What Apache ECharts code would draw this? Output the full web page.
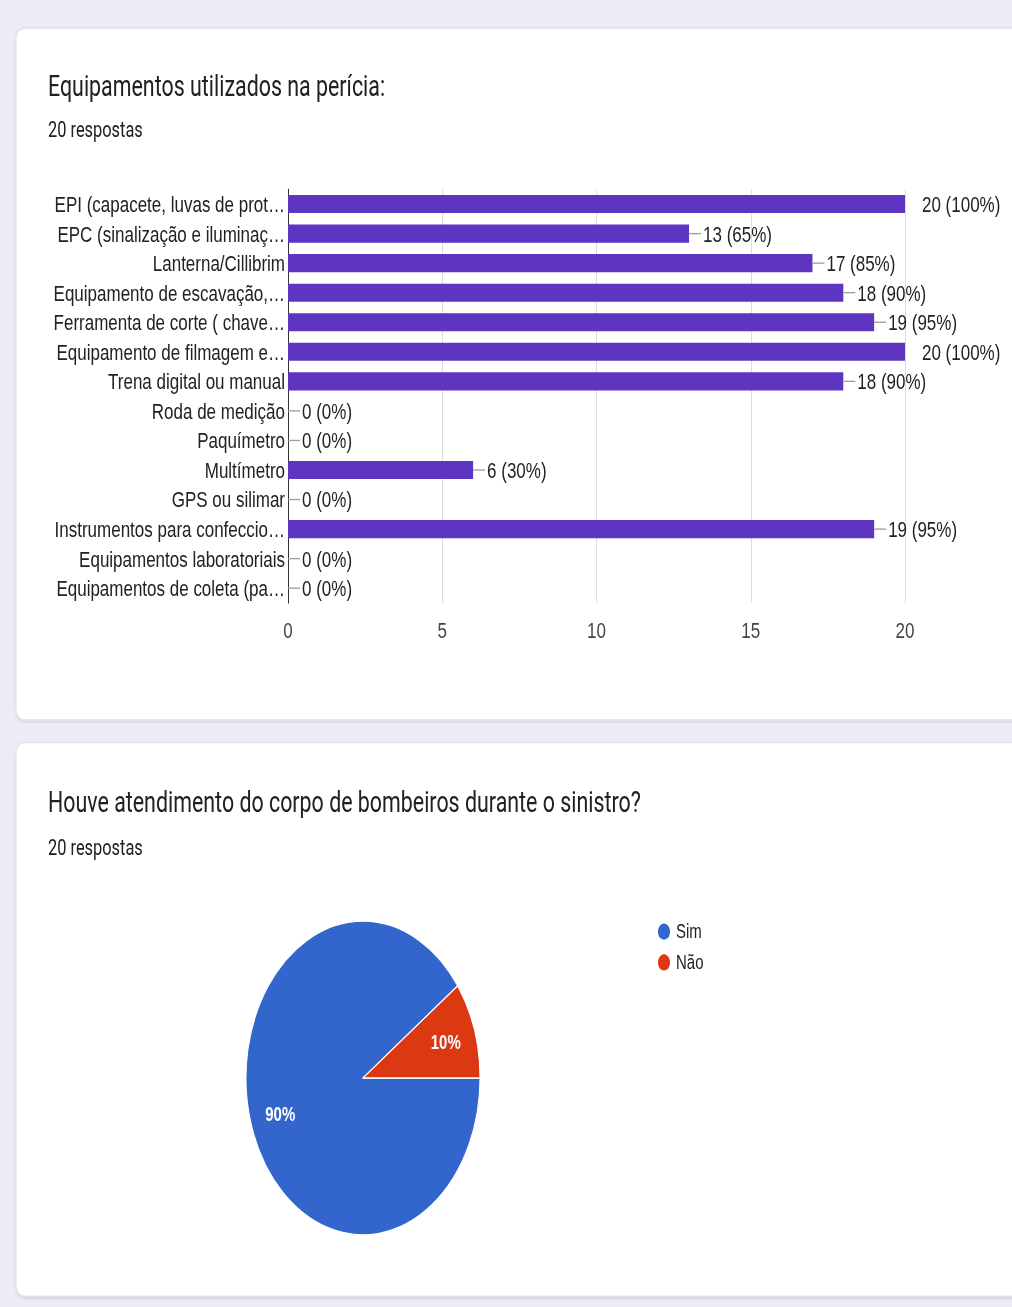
<!DOCTYPE html>
<html>
<head>
<meta charset="utf-8">
<script src="https://cdn.jsdelivr.net/npm/echarts@6/dist/echarts.min.js"></script>
<style>
  html, body { margin: 0; padding: 0; background: #eeebf6; }
  body { width: 1012px; height: 1307px; }
  /* the source screenshot is stretched vertically, so the whole page is */
  #main { width: 1012px; height: 975px; transform: scaleY(1.3405); transform-origin: 0 0; }
</style>
</head>
<body>
<div id="main"></div>
<script>
const categories = [
  'EPI (capacete, luvas de prot…',
  'EPC (sinalização e iluminaç…',
  'Lanterna/Cillibrim',
  'Equipamento de escavação,…',
  'Ferramenta de corte ( chave…',
  'Equipamento de filmagem e…',
  'Trena digital ou manual',
  'Roda de medição',
  'Paquímetro',
  'Multímetro',
  'GPS ou silimar',
  'Instrumentos para confeccio…',
  'Equipamentos laboratoriais',
  'Equipamentos de coleta (pa…'
];
const counts = [20, 13, 17, 18, 19, 20, 18, 0, 0, 6, 0, 19, 0, 0];
const totalAnswers = 20;

const pieNames = ['Sim', 'Não'];
const pieValues = [18, 2];
const pieColors = ['#3366cc', '#dc3912'];

const chart = echarts.init(document.getElementById('main'), null, { renderer: 'svg' });

const cardStyle = {
  fill: '#ffffff',
  stroke: '#e2e0ea',
  lineWidth: 1,
  shadowBlur: 2,
  shadowOffsetY: 1,
  shadowColor: 'rgba(0,0,0,0.12)'
};
const titleFont = { fontFamily: 'Roboto', fontWeight: 'normal', color: '#202124' };

chart.setOption({
  animation: false,
  graphic: [
    { type: 'rect', z: -10, shape: { x: 16, y: 21, width: 1010, height: 516, r: 8 }, style: cardStyle },
    { type: 'rect', z: -10, shape: { x: 16, y: 554, width: 1010, height: 413, r: 8 }, style: cardStyle }
  ],
  title: [
    { text: 'Equipamentos utilizados na perícia:', left: 48, top: 54, padding: 0,
      textStyle: Object.assign({ fontSize: 21.4 }, titleFont) },
    { text: '20 respostas', left: 48, top: 89, padding: 0,
      textStyle: Object.assign({ fontSize: 16.4 }, titleFont) },
    { text: 'Houve atendimento do corpo de bombeiros durante o sinistro?', left: 48, top: 588, padding: 0,
      textStyle: Object.assign({ fontSize: 21.4 }, titleFont) },
    { text: '20 respostas', left: 48, top: 624, padding: 0,
      textStyle: Object.assign({ fontSize: 16.4 }, titleFont) }
  ],
  grid: { left: 288, right: 107, top: 141.2, bottom: 525.2 },
  xAxis: {
    type: 'value', min: 0, max: 20, interval: 5,
    axisLine: { show: false }, axisTick: { show: false },
    splitLine: { lineStyle: { color: '#dcdcdc' } },
    axisLabel: { margin: 12, color: '#444', fontFamily: 'Liberation Sans', fontSize: 17 }
  },
  yAxis: {
    type: 'category', data: categories, inverse: true,
    axisLine: { lineStyle: { color: '#333', width: 1 } },
    axisTick: { show: false },
    axisLabel: { interval: 0, margin: 3, color: '#222', fontFamily: 'Liberation Sans', fontSize: 17 }
  },
  legend: {
    orient: 'vertical', left: 651, top: 682,
    data: pieNames, icon: 'circle', itemWidth: 14, itemHeight: 14, itemGap: 7,
    textStyle: { color: '#222', fontFamily: 'Liberation Sans', fontSize: 15 }
  },
  series: [
    {
      type: 'bar', data: counts, barWidth: 13.5,
      itemStyle: { color: '#5e35c0' },
      label: {
        show: true, position: 'right', distance: 0,
        formatter: p => {
          const txt = p.value + ' (' + Math.round(p.value / totalAnswers * 100) + '%)';
          return p.value >= totalAnswers ? '{sp|}{t|' + txt + '}' : '{ln|}{t|' + txt + '}';
        },
        rich: {
          sp: { width: 15, height: 1 },
          ln: { width: 12, height: 1, backgroundColor: '#9e9e9e' },
          t: { color: '#222', fontFamily: 'Liberation Sans', fontSize: 17, padding: [0, 0, 0, 2] }
        }
      }
    },
    {
      type: 'pie', center: [363, 804.2], radius: [0, 117], startAngle: 0, clockwise: true,
      data: pieNames.map((n, i) => ({ name: n, value: pieValues[i], itemStyle: { color: pieColors[i] } })),
      itemStyle: { borderColor: '#ffffff', borderWidth: 1 },
      label: { show: false }, labelLine: { show: false }, silent: true
    },
    {
      // transparent ring, only used to place the percentages like the source
      type: 'pie', center: [363, 804.2], radius: [51, 117], startAngle: 0, clockwise: true,
      data: pieNames.map((n, i) => ({ name: n, value: pieValues[i], itemStyle: { color: 'rgba(0,0,0,0)' } })),
      label: {
        show: true, position: 'inside', formatter: '{d}%',
        color: '#fff', fontFamily: 'Liberation Sans', fontWeight: 'bold', fontSize: 15
      },
      labelLine: { show: false }, silent: true
    }
  ]
});
</script>
</body>
</html>
